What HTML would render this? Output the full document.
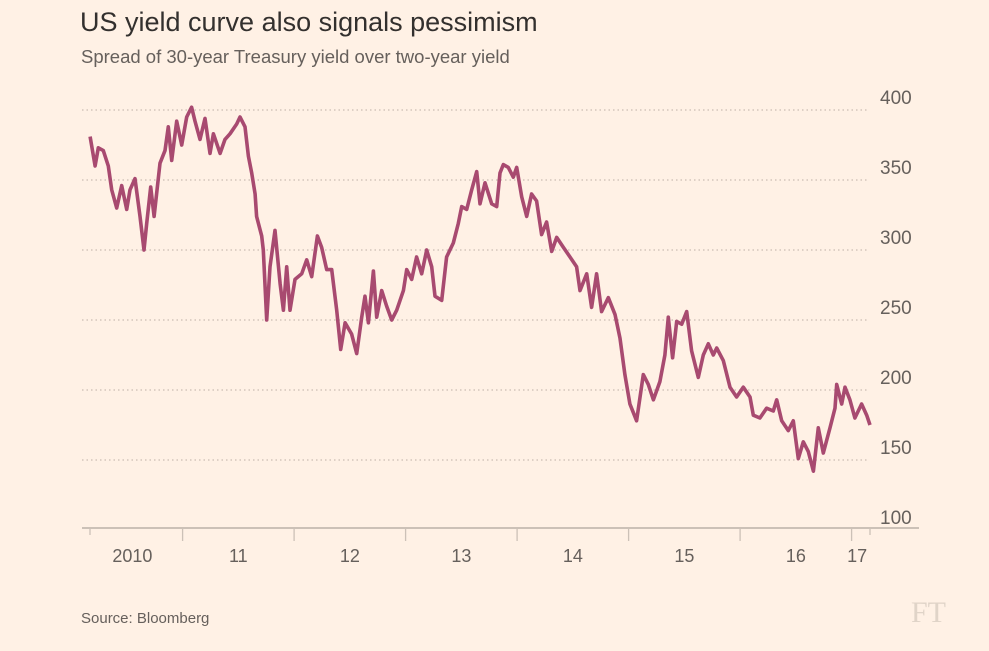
<!DOCTYPE html>
<html><head><meta charset="utf-8">
<style>
html,body{margin:0;padding:0;background:#fff1e5;}
body{width:989px;height:651px;overflow:hidden;font-family:"Liberation Sans",sans-serif;}
svg{display:block;}
</style></head>
<body>
<svg id="chart" width="989" height="651" viewBox="0 0 989 651" xmlns="http://www.w3.org/2000/svg">
<rect width="989" height="651" fill="#fff1e5"/>
<text x="80" y="31" font-size="27" fill="#33302e">US yield curve also signals pessimism</text>
<text x="81" y="63" font-size="18.5" fill="#66605c">Spread of 30-year Treasury yield over two-year yield</text>
<g id="grid"></g>
<g id="ylabels"></g>
<g id="xaxis"></g>
<g id="series"></g>
<text x="81" y="623" font-size="15" fill="#66605c">Source: Bloomberg</text>
<text x="911" y="622" font-size="30" fill="#e0d4c8" font-family="Liberation Serif, serif">FT</text>
</svg>
<script>
const yTicks=[100,150,200,250,300,350,400];
const xTickYears=[2010.125,2011,2012,2013,2014,2015,2016,2017,2017.165];
const xLabels=["2010","11","12","13","14","15","16","17"];
const xLabelPos=[2010.55,2011.5,2012.5,2013.5,2014.5,2015.5,2016.5,2017.05];
const dates=[2010.170,2010.215,2010.244,2010.289,2010.334,2010.364,2010.409,2010.454,2010.499,2010.528,2010.573,2010.618,2010.654,2010.678,2010.714,2010.744,2010.797,2010.842,2010.872,2010.902,2010.947,2010.992,2011.037,2011.081,2011.111,2011.156,2011.201,2011.246,2011.276,2011.336,2011.380,2011.425,2011.485,2011.515,2011.560,2011.590,2011.620,2011.650,2011.664,2011.709,2011.724,2011.754,2011.784,2011.829,2011.874,2011.904,2011.934,2011.963,2012.008,2012.068,2012.113,2012.158,2012.209,2012.247,2012.292,2012.337,2012.382,2012.418,2012.457,2012.516,2012.561,2012.606,2012.636,2012.666,2012.711,2012.741,2012.786,2012.830,2012.875,2012.920,2012.980,2013.010,2013.055,2013.099,2013.144,2013.189,2013.234,2013.264,2013.324,2013.368,2013.428,2013.473,2013.503,2013.548,2013.593,2013.638,2013.667,2013.712,2013.772,2013.817,2013.847,2013.876,2013.921,2013.966,2013.996,2014.041,2014.086,2014.130,2014.175,2014.220,2014.265,2014.310,2014.355,2014.414,2014.474,2014.534,2014.564,2014.624,2014.668,2014.713,2014.758,2014.818,2014.878,2014.923,2014.967,2015.012,2015.072,2015.132,2015.177,2015.222,2015.281,2015.326,2015.356,2015.395,2015.431,2015.476,2015.521,2015.565,2015.625,2015.670,2015.715,2015.760,2015.790,2015.849,2015.909,2015.969,2016.029,2016.089,2016.118,2016.178,2016.238,2016.298,2016.328,2016.373,2016.432,2016.477,2016.522,2016.567,2016.612,2016.657,2016.701,2016.746,2016.806,2016.851,2016.866,2016.911,2016.941,2016.985,2017.030,2017.090,2017.135,2017.165];
const spread=[381,360,373,371,360,343,330,346,329,343,351,324,300,319,345,324,362,371,388,364,392,375,395,402,392,379,394,369,383,369,379,383,390,395,388,367,355,340,324,310,300,250,288,314,276,257,288,257,279,283,293,281,310,302,286,286,257,229,248,240,226,252,267,248,285,252,271,260,250,257,271,286,279,295,283,300,288,267,264,295,305,319,331,329,343,356,333,348,333,331,355,361,359,352,359,338,324,340,335,311,320,299,309,302,295,288,271,283,259,283,256,266,254,237,211,190,178,211,204,193,206,225,252,223,249,247,256,228,209,225,233,225,230,221,202,195,202,195,182,180,187,185,193,178,171,178,151,163,156,142,173,155,173,187,204,190,202,193,180,190,182,175];

const NS="http://www.w3.org/2000/svg";
function xs(t){return 182.6+(t-2011)*111.5;}
function ys(v){return 110+(400-v)*1.4;}
const grid=document.getElementById('grid'),yl=document.getElementById('ylabels'),xa=document.getElementById('xaxis'),se=document.getElementById('series');
yTicks.forEach(v=>{
  if(v>100){
    const l=document.createElementNS(NS,'line');
    
    
    l.setAttribute('x1',82);l.setAttribute('x2',868);l.setAttribute('y1',ys(v));l.setAttribute('y2',ys(v));
    l.setAttribute('stroke','#c9bdb2');l.setAttribute('stroke-width','1.2');l.setAttribute('stroke-dasharray','1.5 3');
    grid.appendChild(l);
  }
  const t=document.createElementNS(NS,'text');
  
  
  t.setAttribute('x',880);t.setAttribute('y',ys(v)-6);t.setAttribute('font-size','19');t.setAttribute('fill','#66605c');
  t.textContent=v;yl.appendChild(t);
});
const ax=document.createElementNS(NS,'line');


ax.setAttribute('x1',82);ax.setAttribute('x2',919);ax.setAttribute('y1',528);ax.setAttribute('y2',528);
ax.setAttribute('stroke','#ccc1b7');ax.setAttribute('stroke-width','2');xa.appendChild(ax);
xTickYears.forEach((y,i)=>{
  const l=document.createElementNS(NS,'line');
  
  
  const x=i===0?90:xs(y);
  l.setAttribute('x1',x);l.setAttribute('x2',x);l.setAttribute('y1',529);l.setAttribute('y2',i===0||i===8?535:541);
  l.setAttribute('stroke','#ccc1b7');l.setAttribute('stroke-width','1.3');xa.appendChild(l);
});
xLabels.forEach((s,i)=>{
  const t=document.createElementNS(NS,'text');
  
  
  t.setAttribute('x',xs(xLabelPos[i]));t.setAttribute('y',562);t.setAttribute('font-size','18');t.setAttribute('fill','#66605c');t.setAttribute('text-anchor','middle');
  t.textContent=s;xa.appendChild(t);
});
let d='';
dates.forEach((t,i)=>{d+=(i?'L':'M')+xs(t).toFixed(1)+' '+ys(spread[i]).toFixed(1);});
const p=document.createElementNS(NS,'path');


p.setAttribute('d',d);p.setAttribute('fill','none');p.setAttribute('stroke','#a84a70');p.setAttribute('stroke-width','3.6');p.setAttribute('stroke-linejoin','round');
se.appendChild(p);
</script>
</body></html>
